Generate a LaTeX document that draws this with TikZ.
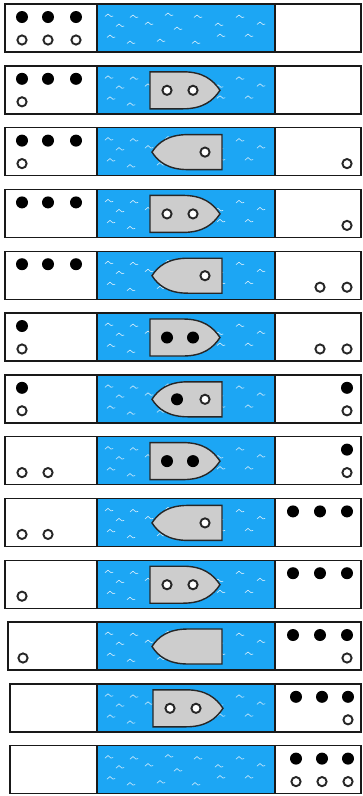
\documentclass[tikz,border=0pt]{standalone}
\usepackage{tikz}
\definecolor{riverblue}{HTML}{1CA6F4}
\definecolor{boatgrey}{HTML}{CDCDCD}
\definecolor{wavewhite}{HTML}{D8EEFC}

\tikzset{
  bank/.style={draw=black!90, line width=1.4pt, fill=white},
  water/.style={draw=black!90, line width=1.4pt, fill=riverblue},
  wave/.style={draw=wavewhite, line width=0.6pt, line cap=round},
  hull/.style={draw=black!85, line width=1.4pt, fill=boatgrey},
  row/.style={shift={(0,{4+61.8*#1})}},
  bman/.pic={\fill[black] (0,0) circle (6pt);},
  wman/.pic={\draw[black!85, line width=1.9pt, fill=white] (0,0) circle (4.6pt);},
  boatright/.pic={
    \path[hull] (150,6) -- (183,6) .. controls (203,6) and (213,14) .. (220,24.5)
      .. controls (213,35) and (203,43) .. (183,43) -- (150,43) -- cycle;},
  boatleft/.pic={
    \path[hull] (222,7) -- (188,7) .. controls (168,7) and (158,15) .. (152,24.5)
      .. controls (158,34) and (168,42) .. (188,42) -- (222,42) -- cycle;},
}

\begin{document}
\begin{tikzpicture}[x=1pt, y=-1pt]
  \useasboundingbox (0,0) rectangle (362,796);

  % banks and river, one row per crossing
  \foreach \r/\lx in {0/5,1/5,2/5,3/5,4/5,5/5,6/5,7/5,8/5,9/5,10/8,11/10,12/10} {
    \begin{scope}[row=\r]
      \path[bank] (\lx,0) rectangle (97,48);
      \path[water] (97,0) rectangle (275,48);
      \path[bank] (275,0) rectangle (361,48);
      \foreach \wx/\wy in {108/11,133/12,168/10,197/12,239/12,119/21,148/19,177/24,
                           218/20,260/19,110/32,130/38,160/36,195/38,220/31,248/31}
        \draw[wave] (\wx-3,\wy+1.5) -- (\wx,\wy-1) -- (\wx+3,\wy+1.5) -- (\wx+5,\wy+1);
    \end{scope}
  }

  % 1
  \begin{scope}[row=0]
    \foreach \x in {22,48,76} {\pic at (\x,13) {bman}; \pic at (\x,36) {wman};}
  \end{scope}
  % 2
  \begin{scope}[row=1]
    \foreach \x in {22,48,76} \pic at (\x,13) {bman};
    \pic at (22,36) {wman};
    \pic at (0,0) {boatright};
    \pic at (167,24.5) {wman}; \pic at (193,24.5) {wman};
  \end{scope}
  % 3
  \begin{scope}[row=2]
    \foreach \x in {22,48,76} \pic at (\x,13) {bman};
    \pic at (22,36) {wman};
    \pic at (0,0) {boatleft};
    \pic at (205,24.5) {wman};
    \pic at (347,36) {wman};
  \end{scope}
  % 4
  \begin{scope}[row=3]
    \foreach \x in {22,48,76} \pic at (\x,13) {bman};
    \pic at (0,0) {boatright};
    \pic at (167,24.5) {wman}; \pic at (193,24.5) {wman};
    \pic at (347,36) {wman};
  \end{scope}
  % 5
  \begin{scope}[row=4]
    \foreach \x in {22,48,76} \pic at (\x,13) {bman};
    \pic at (0,0) {boatleft};
    \pic at (205,24.5) {wman};
    \pic at (320,36) {wman}; \pic at (347,36) {wman};
  \end{scope}
  % 6
  \begin{scope}[row=5]
    \pic at (22,13) {bman}; \pic at (22,36) {wman};
    \pic at (0,0) {boatright};
    \pic at (167,24.5) {bman}; \pic at (193,24.5) {bman};
    \pic at (320,36) {wman}; \pic at (347,36) {wman};
  \end{scope}
  % 7
  \begin{scope}[row=6]
    \pic at (22,13) {bman}; \pic at (22,36) {wman};
    \pic at (0,0) {boatleft};
    \pic at (177,24.5) {bman}; \pic at (205,24.5) {wman};
    \pic at (347,13) {bman}; \pic at (347,36) {wman};
  \end{scope}
  % 8
  \begin{scope}[row=7]
    \pic at (22,36) {wman}; \pic at (48,36) {wman};
    \pic at (0,0) {boatright};
    \pic at (167,24.5) {bman}; \pic at (193,24.5) {bman};
    \pic at (347,13) {bman}; \pic at (347,36) {wman};
  \end{scope}
  % 9
  \begin{scope}[row=8]
    \pic at (22,36) {wman}; \pic at (48,36) {wman};
    \pic at (0,0) {boatleft};
    \pic at (205,24.5) {wman};
    \foreach \x in {293,320,347} \pic at (\x,13) {bman};
  \end{scope}
  % 10
  \begin{scope}[row=9]
    \pic at (22,36) {wman};
    \pic at (0,0) {boatright};
    \pic at (167,24.5) {wman}; \pic at (193,24.5) {wman};
    \foreach \x in {293,320,347} \pic at (\x,13) {bman};
  \end{scope}
  % 11
  \begin{scope}[row=10]
    \pic at (23,36) {wman};
    \pic at (0,0) {boatleft};
    \foreach \x in {293,320,347} \pic at (\x,13) {bman};
    \pic at (347,36) {wman};
  \end{scope}
  % 12
  \begin{scope}[row=11]
    \pic at (3,0) {boatright};
    \pic at (170,24.5) {wman}; \pic at (196,24.5) {wman};
    \foreach \x in {296,322,348} \pic at (\x,13) {bman};
    \pic at (348,36) {wman};
  \end{scope}
  % 13
  \begin{scope}[row=12]
    \foreach \x in {296,322,348} {\pic at (\x,13) {bman}; \pic at (\x,36) {wman};}
  \end{scope}
\end{tikzpicture}
\end{document}
